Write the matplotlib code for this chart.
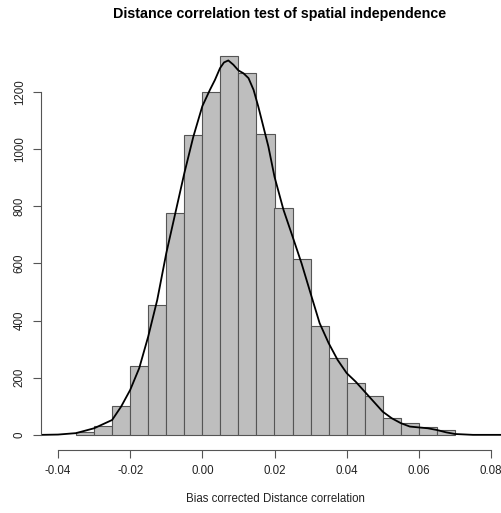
import numpy as np
import matplotlib.pyplot as plt

# histogram counts, bins of width 0.005
bin_edges = [-0.035, -0.030, -0.025, -0.020, -0.015, -0.010, -0.005, 0.000,
             0.005, 0.010, 0.015, 0.020, 0.025, 0.030, 0.035, 0.040, 0.045,
             0.050, 0.055, 0.060, 0.065, 0.070]
counts = [9, 30, 101, 242, 453, 775, 1049, 1200, 1325, 1265, 1052, 793,
          616, 382, 270, 182, 135, 59, 41, 29, 17]

# density curve (scaled to counts)
curve_x = [-0.0445, -0.040, -0.035, -0.030, -0.025, -0.0225, -0.020, -0.0175,
           -0.015, -0.0125, -0.010, -0.0075, -0.005, -0.0025, 0.000, 0.0021,
           0.0035, 0.0049, 0.006, 0.0072, 0.0086, 0.010, 0.0114, 0.0128,
           0.0142, 0.0155, 0.0169, 0.0183, 0.020, 0.0225,
           0.025, 0.0275, 0.030, 0.0325, 0.035, 0.0375, 0.040, 0.0425, 0.045,
           0.0475, 0.050, 0.0525, 0.055, 0.0575, 0.060, 0.0625, 0.065, 0.0675,
           0.070, 0.075, 0.090]
curve_y = [0, 1, 6, 23, 52, 99, 157, 233, 344, 472, 635, 775, 915, 1043,
           1150, 1207, 1242, 1283, 1303, 1310, 1295, 1275, 1265, 1248,
           1207, 1149, 1079, 1009, 903, 787,
           694, 600, 495, 391, 321, 262, 216, 186, 151, 116, 81, 58, 41, 29,
           26, 23, 17, 9, 3, 0, 0]

W, H = 502, 513
fig = plt.figure(figsize=(W / 100, H / 100), dpi=100)
plt.rcParams['font.family'] = ['Liberation Sans', 'DejaVu Sans']

# plot region in pixels (R style, runs a bit past the right edge)
left, right, bottom, top = 41, 513, 450, 41
ax = fig.add_axes([left / W, 1 - bottom / H, (right - left) / W, (bottom - top) / H])

ax.hist(bin_edges[:-1], bins=bin_edges, weights=counts,
        color='#bebebe', edgecolor='#555555', linewidth=0.8)
ax.plot(curve_x, curve_y, color='black', linewidth=1.3)

px_per_unit = (491 - 58) / 0.12
ax.set_xlim(-0.04 - (58 - left) / px_per_unit, -0.04 + (right - 58) / px_per_unit)
ax.set_ylim(-53, 1378)

for s in ['top', 'right']:
    ax.spines[s].set_visible(False)
ax.spines['bottom'].set_bounds(-0.04, 0.08)
ax.spines['left'].set_bounds(0, 1200)
for s in ['bottom', 'left']:
    ax.spines[s].set_color('#555555')
    ax.spines[s].set_linewidth(0.8)

ax.set_xticks([-0.04, -0.02, 0.00, 0.02, 0.04, 0.06, 0.08])
ax.set_xticklabels(['-0.04', '-0.02', '0.00', '0.02', '0.04', '0.06', '0.08'])
ax.set_yticks([0, 200, 400, 600, 800, 1000, 1200])
ax.set_yticklabels(['0', '200', '400', '600', '800', '1000', '1200'],
                   rotation=90, va='center')
ax.tick_params(axis='both', length=6, width=0.8, color='#555555',
               labelsize=8.3, labelcolor='#222222', pad=5)

fig.text(280 / W, 1 - 14 / H, 'Distance correlation test of spatial independence',
         ha='center', va='center', fontsize=10.3, fontweight='bold')
fig.text(275 / W, 1 - 499 / H, 'Bias corrected Distance correlation',
         ha='center', va='center', fontsize=8.3, color='#222222')

fig.savefig('out.png', dpi=100)
